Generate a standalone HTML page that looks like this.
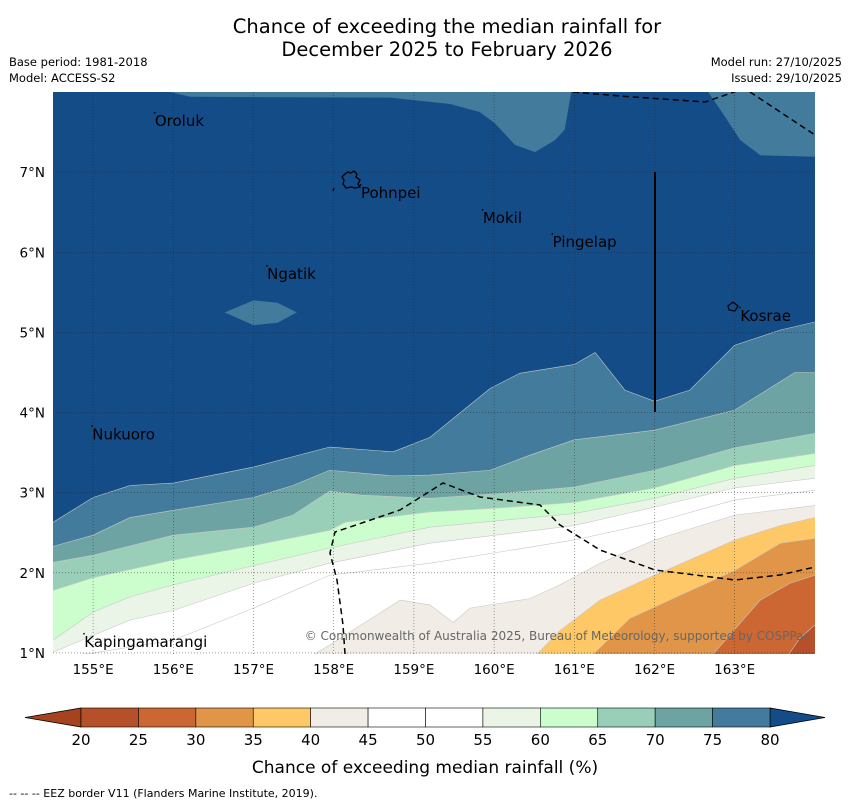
<!DOCTYPE html>
<html><head><meta charset="utf-8"><style>
body{margin:0;background:#fff;}
svg text{font-family:"DejaVu Sans","Liberation Sans",sans-serif;}
</style></head><body>
<svg width="850" height="804" xmlns="http://www.w3.org/2000/svg" id="svg">
<text x="447" y="33" font-size="19.5" text-anchor="middle">Chance of exceeding the median rainfall for</text>
<text x="447" y="56" font-size="19.5" text-anchor="middle">December 2025 to February 2026</text>
<text x="9" y="66" font-size="11.5">Base period: 1981-2018</text>
<text x="9" y="82" font-size="11.5">Model: ACCESS-S2</text>
<text x="842" y="66" font-size="11.5" text-anchor="end">Model run: 27/10/2025</text>
<text x="842" y="82" font-size="11.5" text-anchor="end">Issued: 29/10/2025</text>
<defs><clipPath id="clip"><rect x="53" y="92" width="762" height="562"/></clipPath></defs>
<g id="map" clip-path="url(#clip)"></g>
<g id="axes"></g>
<g id="cbar"></g>
<text x="425" y="773" font-size="17" text-anchor="middle">Chance of exceeding median rainfall (%)</text>
<text x="9" y="797" font-size="11">--  --  -- EEZ border V11 (Flanders Marine Institute, 2019).</text>
</svg>
<script>
const levels = [80, 75, 70, 65, 60, 55, 50, 45, 40, 35, 30, 25];
const bandColors = ["#427b9b","#6ea3a3","#99cfb8","#ccfdcc","#eaf5e8","#ffffff","#ffffff","#f1ece6","#fec866","#e09548","#cc6633","#b5502a"];
const topColor = "#144c88";
const b80Lon = [154.5,155.0,155.46,156.0,157.0,157.95,158.74,159.2,159.95,160.32,161.0,161.26,161.63,162.0,162.44,163.0,163.57,164.0];
const b80Lat = [2.63,2.94,3.09,3.12,3.32,3.57,3.51,3.69,4.3,4.49,4.6,4.75,4.28,4.14,4.28,4.84,5.03,5.13];
const b75Lon = [154.5,155.0,155.46,156.0,157.0,157.49,157.95,158.74,159.2,159.95,160.45,161.0,162.0,163.0,163.75,164.0];
const b75Lat = [2.33,2.47,2.69,2.78,2.94,3.09,3.28,3.21,3.22,3.28,3.47,3.66,3.78,4.03,4.5,4.5];
const b70Lon = [154.5,155.0,156.0,157.0,157.49,157.95,158.33,159.2,160.07,161.0,162.0,163.0,164.0];
const b70Lat = [2.13,2.22,2.47,2.57,2.72,3.02,2.97,2.93,2.99,3.07,3.28,3.56,3.74];
const b65Lon = [154.5,155.0,156.0,157.0,157.95,158.14,159.2,160.07,161.0,162.0,163.0,164.0];
const b65Lat = [1.78,1.94,2.16,2.34,2.53,2.63,2.76,2.81,2.88,3.06,3.34,3.49];
const b60Lon = [154.5,155.0,155.46,156.0,157.0,157.95,159.2,161.0,162.0,163.0,164.0];
const b60Lat = [1.16,1.51,1.70,1.85,2.09,2.31,2.57,2.74,2.93,3.18,3.34];
const b55Lon = [154.5,155.0,155.46,156.0,157.0,157.95,159.2,161.0,162.0,163.0,164.0];
const b55Lat = [1.01,1.22,1.41,1.53,1.87,2.12,2.37,2.59,2.82,3.06,3.18];
const b50Lon = [154.5,155.0,156.0,157.0,157.95,159.2,161.0,162.0,163.0,164.0];
const b50Lat = [0.95,1.0,1.16,1.56,1.97,2.12,2.41,2.63,2.91,3.03];
const b45Lon = [154.5,157.7,157.95,158.83,159.2,159.49,159.7,160.45,160.82,161.32,162.0,163.0,164.0];
const b45Lat = [0.95,0.95,1.10,1.66,1.60,1.38,1.56,1.68,1.85,2.12,2.41,2.72,2.84];
const b40Lon = [154.5,160.5,160.82,161.32,162.0,163.0,163.57,164.0];
const b40Lat = [0.95,0.95,1.28,1.66,1.97,2.41,2.59,2.69];
const b35Lon = [154.5,161.2,161.69,162.32,163.0,163.57,164.0];
const b35Lat = [0.95,0.95,1.43,1.72,2.03,2.37,2.43];
const b30Lon = [154.5,162.7,163.32,163.69,164.0];
const b30Lat = [0.95,0.95,1.66,1.87,1.97];
const b25Lon = [154.5,163.65,163.81,164.0];
const b25Lat = [0.95,0.95,1.18,1.35];
const bLons = [b80Lon,b75Lon,b70Lon,b65Lon,b60Lon,b55Lon,b50Lon,b45Lon,b40Lon,b35Lon,b30Lon,b25Lon];
const bLats = [b80Lat,b75Lat,b70Lat,b65Lat,b60Lat,b55Lat,b50Lat,b45Lat,b40Lat,b35Lat,b30Lat,b25Lat];
const topLon = [155.9,155.96,156.21,158.7,159.45,159.82,160.01,160.26,160.51,160.76,160.88,160.98,162.6,162.82,163.07,163.32,164.1];
const topLat = [8.1,8.0,7.94,7.93,7.85,7.75,7.61,7.34,7.25,7.4,7.53,8.1,8.1,7.78,7.4,7.21,7.19];
const patchLon = [156.64,157.0,157.3,157.54,157.3,157.0];
const patchLat = [5.25,5.4,5.37,5.25,5.12,5.09];
const lonTicks = [155,156,157,158,159,160,161,162,163];
const latTicks = [1,2,3,4,5,6,7];
const cbTicks = [20,25,30,35,40,45,50,55,60,65,70,75,80];
const places = ["Oroluk","Pohnpei","Mokil","Pingelap","Ngatik","Kosrae","Nukuoro","Kapingamarangi"];
const placeLon = [155.77,158.34,159.86,160.73,157.17,163.07,154.99,154.89];
const placeLat = [7.65,6.75,6.44,6.14,5.74,5.22,3.74,1.15];

const NS="http://www.w3.org/2000/svg";
const X = lon => 53 + (lon-154.5)*80.2;
const Y = lat => 92 + (8-lat)*80.14;
function mk(tag, attrs, parent){const e=document.createElementNS(NS,tag);for(const k in attrs)e.setAttribute(k,attrs[k]);parent.appendChild(e);return e;}
const map=document.getElementById('map');
const bg=mk('rect',{x:53,y:92,width:762,height:562,fill:topColor},map);


const tp=mk('polygon',{points:topLon.map((l,i)=>X(l)+','+Y(topLat[i])).join(' ')+' '+X(164.1)+','+Y(8.2)+' '+X(155.9)+','+Y(8.2),fill:bandColors[0]},map);


const pp=mk('polygon',{points:patchLon.map((l,i)=>X(l)+','+Y(patchLat[i])).join(' '),fill:bandColors[0]},map);


levels.forEach((lv,k)=>{
  const lo=bLons[k], la=bLats[k];
  let pts=lo.map((l,i)=>X(l)+','+Y(la[i])).join(' ');
  pts+=' '+X(164.1)+','+Y(la[la.length-1])+' '+X(164.1)+','+Y(0.8)+' '+X(154.4)+','+Y(0.8)+' '+X(154.4)+','+Y(la[0]);
  const p=mk('polygon',{points:pts,fill:bandColors[k],stroke:'#c8c8c8','stroke-width':0.6},map);
  
  
});
lonTicks.forEach(l=>{const g=mk('line',{x1:X(l),x2:X(l),y1:92,y2:654,stroke:'#222','stroke-width':0.6,'stroke-dasharray':'1,2',opacity:0.7},map);

});
latTicks.forEach(l=>{const g=mk('line',{x1:53,x2:815,y1:Y(l),y2:Y(l),stroke:'#222','stroke-width':0.6,'stroke-dasharray':'1,2',opacity:0.7},map);

});
const e1=mk('path',{d:'M345,654 L343,625 L337,580 L330,553 L335,532 L350,527 L400,510 L443,483 L480,497 L540,505 L560,525 L600,550 L655,570 L735,580 L780,575 L815,567',fill:'none',stroke:'#000','stroke-width':1.5,'stroke-dasharray':'6,4'},map);


const e2=mk('path',{d:'M573,92 L620,96 L705,102 L740,90 M750,92 L815,135',fill:'none',stroke:'#000','stroke-width':1.5,'stroke-dasharray':'6,4'},map);


const vl=mk('line',{x1:655,x2:655,y1:172,y2:412,stroke:'#000','stroke-width':2},map);


const pi=mk('path',{d:'M345,174 L348,172 L351,173 L354,171 L357,174 L356,177 L360,180 L358,184 L360,187 L355,188 L351,187 L346,188 L343,184 L344,180 L342,177 Z M334,188 L333,191',fill:'none',stroke:'#000','stroke-width':1.3},map);


const ki=mk('path',{d:'M728,306 L733,302 L738,306 L735,311 L729,310 Z',fill:'none',stroke:'#000','stroke-width':1.2},map);


places.forEach((n,i)=>{const t=mk('text',{x:X(placeLon[i]),y:Y(placeLat[i])+6,'font-size':15,fill:'#000'},map);t.textContent=n;


const d=mk('rect',{x:X(placeLon[i])-1,y:Y(placeLat[i])-8,width:1.5,height:1.5,fill:'#000'},map);

});
const cp=mk('text',{x:810,y:640,'font-size':12,'text-anchor':'end',fill:'#666'},map);cp.textContent='© Commonwealth of Australia 2025, Bureau of Meteorology, supported by COSPPac';


const ax=document.getElementById('axes');
lonTicks.forEach(l=>{const t=mk('text',{x:X(l),y:674,'font-size':13.5,'text-anchor':'middle'},ax);t.textContent=l+'°E';

});
latTicks.forEach(l=>{const t=mk('text',{x:45,y:Y(l)+5,'font-size':13.5,'text-anchor':'end'},ax);t.textContent=l+'°N';

});
const cb=document.getElementById('cbar');
const cx=v=>81+(v-20)/60*689;
const lt=mk('polygon',{points:`25,717.5 ${cx(20)},708 ${cx(20)},727`,fill:'#a5421f',stroke:'#000','stroke-width':0.8},cb);


const rt=mk('polygon',{points:`825,717.5 ${cx(80)},708 ${cx(80)},727`,fill:topColor,stroke:'#000','stroke-width':0.8},cb);


const cbColors=bandColors.slice().reverse();
for(let i=0;i<cbTicks.length-1;i++){const r=mk('rect',{x:cx(cbTicks[i]),y:708,width:cx(cbTicks[i+1])-cx(cbTicks[i]),height:19,fill:cbColors[i],stroke:'#000','stroke-width':0.6},cb);

}
cbTicks.forEach(v=>{const t=mk('text',{x:cx(v),y:745,'font-size':15,'text-anchor':'middle'},cb);t.textContent=v;

});
</script>
</body></html>
